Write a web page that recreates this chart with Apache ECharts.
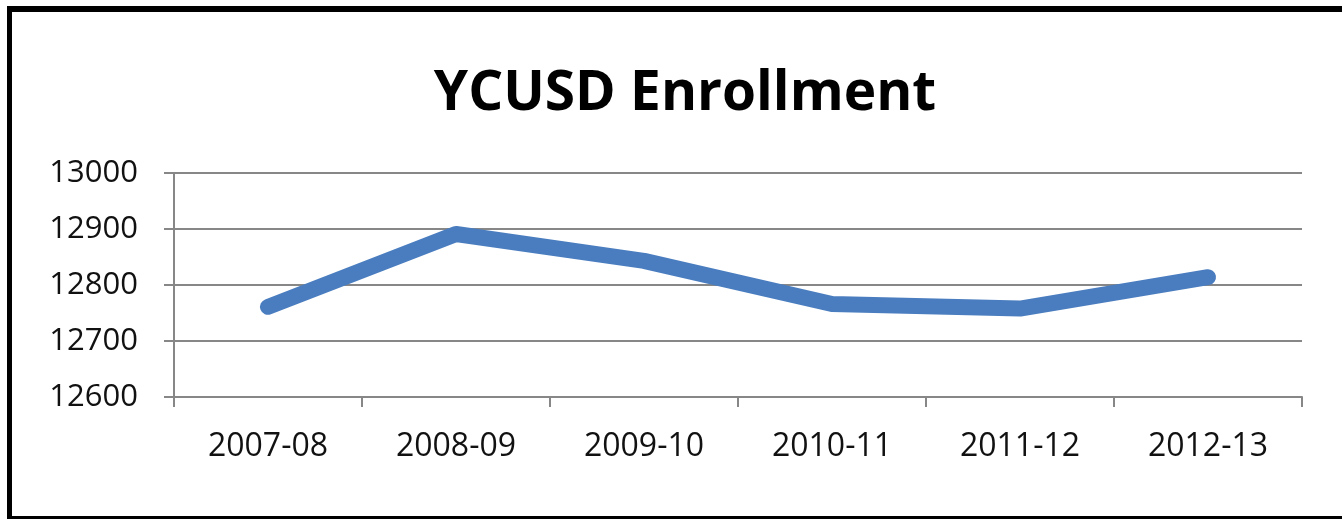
<!DOCTYPE html>
<html>
<head>
<meta charset="utf-8">
<script src="https://cdn.jsdelivr.net/npm/echarts@6/dist/echarts.min.js"></script>
<style>
html,body{margin:0;padding:0;background:#fff;}
#c{width:1342px;height:519px;}
</style>
</head>
<body>
<div id="c"></div>
<script>
var titleText = 'YCUSD Enrollment';
var categories = ['2007-08', '2008-09', '2009-10', '2010-11', '2011-12', '2012-13'];
var enrollment = [12761, 12891, 12843, 12766, 12758, 12814];
var yTicks = { min: 12600, max: 13000, interval: 100 };

var chart = echarts.init(document.getElementById('c'));
chart.setOption({
  animation: false,
  backgroundColor: '#ffffff',
  title: {
    text: titleText,
    left: 680,
    top: 62,
    textAlign: 'center',
    textStyle: { fontFamily: 'Open Sans', fontWeight: 'bold', fontSize: 55, color: '#000' }
  },
  graphic: [
    { type: 'line', shape: { x1: 9.5, y1: 6, x2: 9.5, y2: 519 }, style: { stroke: '#000', lineWidth: 5 }, silent: true },
    { type: 'line', shape: { x1: 7, y1: 9, x2: 1342, y2: 9 }, style: { stroke: '#000', lineWidth: 6 }, silent: true },
    { type: 'line', shape: { x1: 7, y1: 517.5, x2: 1342, y2: 517.5 }, style: { stroke: '#000', lineWidth: 3 }, silent: true }
  ],
  grid: { left: 174, right: 40, top: 173, bottom: 122 },
  xAxis: {
    type: 'category',
    data: categories,
    boundaryGap: true,
    axisLine: { lineStyle: { color: '#878787', width: 2 } },
    axisTick: { show: true, length: 10, lineStyle: { color: '#878787', width: 2 } },
    axisLabel: { margin: 34, fontFamily: 'Open Sans', fontSize: 32, color: '#111' },
    splitLine: { show: false }
  },
  yAxis: {
    type: 'value',
    min: yTicks.min,
    max: yTicks.max,
    interval: yTicks.interval,
    axisLine: { show: true, lineStyle: { color: '#878787', width: 2 } },
    axisTick: { show: true, length: 10, lineStyle: { color: '#878787', width: 2 } },
    axisLabel: { margin: 36, fontFamily: 'Open Sans', fontSize: 31, color: '#111', formatter: function (v) { return String(v); } },
    splitLine: { show: true, lineStyle: { color: '#878787', width: 2 } }
  },
  series: [{
    type: 'line',
    data: enrollment,
    symbol: 'none',
    lineStyle: { color: '#4a7dbf', width: 16, cap: 'round', join: 'round' }
  }]
});
</script>
</body>
</html>
